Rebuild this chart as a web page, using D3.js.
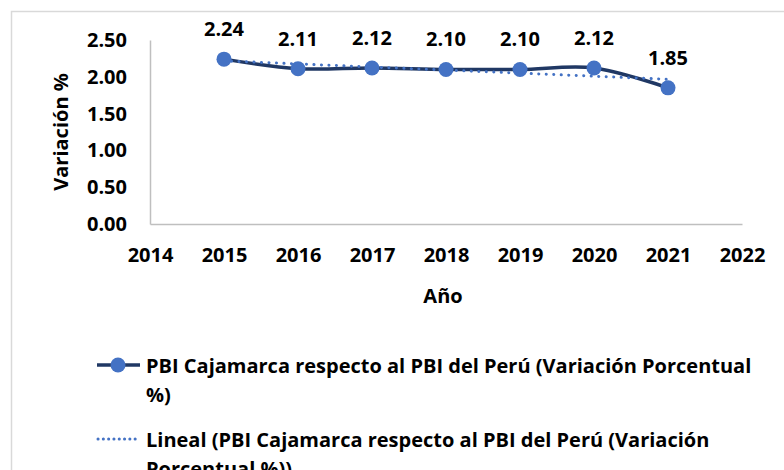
<!DOCTYPE html>
<html>
<head>
<meta charset="utf-8">
<script src="https://cdn.jsdelivr.net/npm/d3@7"></script>
<style>
  body { margin: 0; background: #fff; }
  text { font-family: "Open Sans", Lato, sans-serif; font-weight: bold; fill: #000; }
  .axis .domain { stroke: #bfbfbf; stroke-width: 1.5; }
  .axis text { font-size: 20px; }
</style>
</head>
<body>
<script>
var years = [2015, 2016, 2017, 2018, 2019, 2020, 2021];
var values = [2.24, 2.11, 2.12, 2.10, 2.10, 2.12, 1.85];
var xTicks = [2014, 2015, 2016, 2017, 2018, 2019, 2020, 2021, 2022];
var yTicks = [0, 0.5, 1, 1.5, 2, 2.5];
var seriesName = ['PBI Cajamarca respecto al PBI del Perú (Variación Porcentual', '%)'];
var trendName = ['Lineal (PBI Cajamarca respecto al PBI del Perú (Variación', 'Porcentual %))'];

var width = 784, height = 470;
var navy = '#203864', blue = '#4472c4';

var svg = d3.select('body').append('svg')
    .attr('width', width)
    .attr('height', height);

// chart border
svg.append('rect')
    .attr('x', 11.5).attr('y', 11.5)
    .attr('width', 800).attr('height', 500)
    .attr('fill', 'none')
    .attr('stroke', '#d9d9d9')
    .attr('stroke-width', 1.5);

var x = d3.scaleLinear().domain([2014, 2022]).range([150, 742]);
var y = d3.scaleLinear().domain([0, 2.5]).range([224, 40]);

svg.append('g')
    .attr('class', 'axis')
    .attr('transform', 'translate(0,' + y(0) + ')')
    .call(d3.axisBottom(x).tickValues(xTicks).tickFormat(d3.format('d')).tickSize(0).tickPadding(24));

svg.append('g')
    .attr('class', 'axis')
    .attr('transform', 'translate(' + x(2014) + ',0)')
    .call(d3.axisLeft(y).tickValues(yTicks).tickFormat(d3.format('.2f')).tickSize(0).tickPadding(23));

svg.selectAll('.axis text').attr('fill', '#000');

// axis titles
svg.append('text')
    .attr('transform', 'translate(68,' + ((y(0) + y(2.5)) / 2) + ') rotate(-90)')
    .attr('text-anchor', 'middle')
    .style('font-size', '20px')
    .text('Variación %');

svg.append('text')
    .attr('x', 443).attr('y', 303)
    .attr('text-anchor', 'middle')
    .style('font-size', '20px')
    .text('Año');

// main series (smoothed)
var pts = years.map(function(d, i) { return [d, values[i]]; });
var line = d3.line()
    .x(function(d) { return x(d[0]); })
    .y(function(d) { return y(d[1]); })
    .curve(d3.curveCatmullRom.alpha(0.5));

svg.append('path')
    .datum(pts)
    .attr('d', line)
    .attr('fill', 'none')
    .attr('stroke', navy)
    .attr('stroke-width', 3.5);

// linear trend (least squares)
var mx = d3.mean(years), my = d3.mean(values);
var slope = d3.sum(years, function(d, i) { return (d - mx) * (values[i] - my); }) /
    d3.sum(years, function(d) { return (d - mx) * (d - mx); });
var trend = [years[0], years[years.length - 1]].map(function(d) {
  return [d, my + slope * (d - mx)];
});

svg.append('path')
    .datum(trend)
    .attr('d', d3.line().x(function(d) { return x(d[0]); }).y(function(d) { return y(d[1]); }))
    .attr('fill', 'none')
    .attr('stroke', blue)
    .attr('stroke-width', 3)
    .attr('stroke-linecap', 'round')
    .attr('stroke-dasharray', '0.1 7.4');

svg.selectAll('.dot')
    .data(pts)
    .enter().append('circle')
    .attr('class', 'dot')
    .attr('cx', function(d) { return x(d[0]); })
    .attr('cy', function(d) { return y(d[1]); })
    .attr('r', 7.5)
    .attr('fill', blue);

// data labels
svg.selectAll('.lbl')
    .data(pts)
    .enter().append('text')
    .attr('class', 'lbl')
    .attr('x', function(d) { return x(d[0]); })
    .attr('y', function(d) { return y(d[1]) - 23; })
    .attr('text-anchor', 'middle')
    .style('font-size', '20px')
    .text(function(d) { return d3.format('.2f')(d[1]); });

// legend
var lg = svg.append('g');
lg.append('line')
    .attr('x1', 97).attr('x2', 140).attr('y1', 365).attr('y2', 365)
    .attr('stroke', navy).attr('stroke-width', 3.5);
lg.append('circle')
    .attr('cx', 118).attr('cy', 365).attr('r', 7.5).attr('fill', blue);
lg.append('line')
    .attr('x1', 98).attr('x2', 140).attr('y1', 439).attr('y2', 439)
    .attr('stroke', blue).attr('stroke-width', 3)
    .attr('stroke-linecap', 'round').attr('stroke-dasharray', '0.1 5.2');

[seriesName, trendName].forEach(function(lines, k) {
  var t = lg.append('text')
      .attr('x', 146)
      .attr('y', 373 + k * 74)
      .style('font-size', '20px');
  lines.forEach(function(s, j) {
    t.append('tspan')
        .attr('x', 146)
        .attr('dy', j === 0 ? 0 : 29)
        .text(s);
  });
});
</script>
</body>
</html>
